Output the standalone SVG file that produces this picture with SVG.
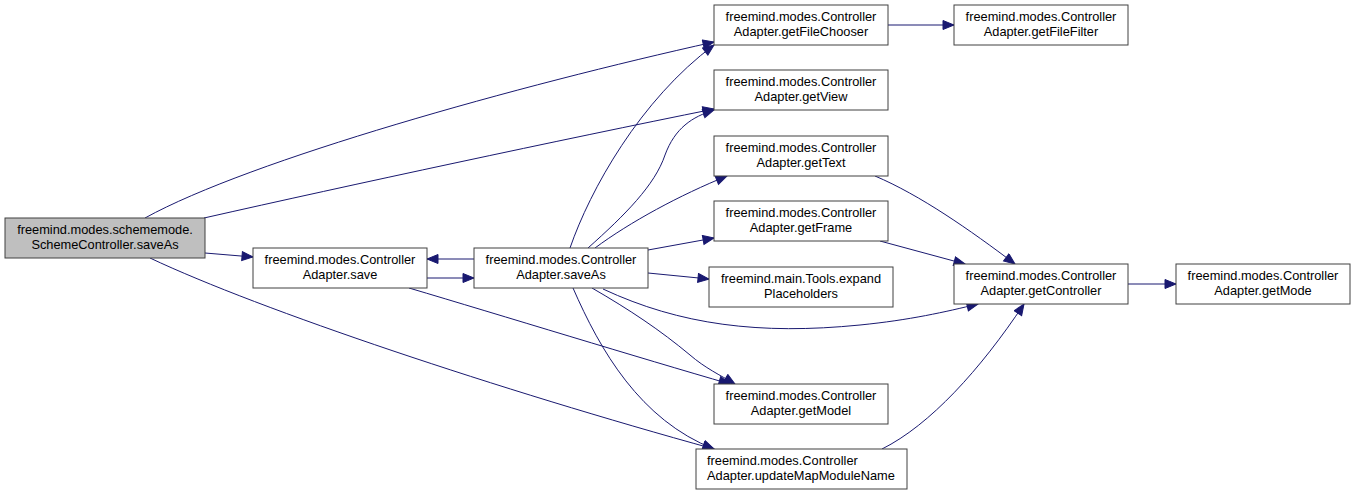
<svg xmlns="http://www.w3.org/2000/svg" width="1355" height="495" viewBox="0 0 1355 495">
<style>
.n rect{fill:#ffffff;stroke:#404040;stroke-width:1}
.n.root rect{fill:#bfbfbf}
.n text{font-family:"Liberation Sans",Arial,sans-serif;font-size:12.8px;fill:#000;text-anchor:middle}
.n text.l{text-anchor:start}
.e path{fill:none;stroke:#191970;stroke-width:1;marker-end:url(#ah)}
</style>
<defs>
<marker id="ah" markerUnits="userSpaceOnUse" markerWidth="14" markerHeight="12" refX="12" refY="5" orient="auto" viewBox="0 0 14 12">
<path d="M1,0.5 L12,5 L1,9.5 z" fill="#191970" stroke="#191970" stroke-width="1"/>
</marker>
</defs>
<rect width="1355" height="495" fill="#ffffff"/>
<g id="edges" class="e">
<path d="M145,218 C 250,160 520,85 714,42"/>
<path d="M204,218 C 350,185 560,140 714,109"/>
<path d="M205,253 L253,257"/>
<path d="M150,258 C 260,310 500,390 714,449"/>
<path d="M427,278 L474,278"/>
<path d="M474,259 L427,259"/>
<path d="M409,288 C 500,315 640,358 730,384"/>
<path d="M570,248 C 590,190 640,100 714,45"/>
<path d="M588,248 C 625,215 655,185 665,155 C 675,128 692,117 714,110"/>
<path d="M595,248 C 630,222 680,195 727,176"/>
<path d="M648,250 L714,238"/>
<path d="M648,273 L709,279"/>
<path d="M603,289 C 680,325 760,335 860,325 C 910,320 945,312 978,304"/>
<path d="M592,288 C 630,310 660,330 690,355 C 705,368 720,375 735,384"/>
<path d="M573,288 C 600,350 640,420 714,449"/>
<path d="M888,25 L954,25"/>
<path d="M875,176 C 920,195 970,230 1015,264"/>
<path d="M880,241 L965,264"/>
<path d="M882,449 C 930,425 980,370 1024,304"/>
<path d="M1128,284 L1176,284"/>
</g>
<g id="n_root" class="n root"><rect x="5" y="218" width="200" height="40"/><text x="105" y="234">freemind.modes.schememode.</text><text x="105" y="249">SchemeController.saveAs</text></g>
<g id="n_save" class="n"><rect x="253" y="248" width="174" height="40"/><text x="340" y="264">freemind.modes.Controller</text><text x="340" y="279">Adapter.save</text></g>
<g id="n_saveAs" class="n"><rect x="474" y="248" width="174" height="40"/><text x="561" y="264">freemind.modes.Controller</text><text x="561" y="279">Adapter.saveAs</text></g>
<g id="n_getFileChooser" class="n"><rect x="714" y="5" width="174" height="40"/><text x="801" y="21">freemind.modes.Controller</text><text x="801" y="36">Adapter.getFileChooser</text></g>
<g id="n_getView" class="n"><rect x="714" y="70" width="174" height="40"/><text x="801" y="86">freemind.modes.Controller</text><text x="801" y="101">Adapter.getView</text></g>
<g id="n_getText" class="n"><rect x="714" y="136" width="174" height="40"/><text x="801" y="152">freemind.modes.Controller</text><text x="801" y="167">Adapter.getText</text></g>
<g id="n_getFrame" class="n"><rect x="714" y="201" width="174" height="40"/><text x="801" y="217">freemind.modes.Controller</text><text x="801" y="232">Adapter.getFrame</text></g>
<g id="n_expand" class="n"><rect x="709" y="267" width="184" height="40"/><text x="801" y="283">freemind.main.Tools.expand</text><text x="801" y="298">Placeholders</text></g>
<g id="n_getModel" class="n"><rect x="714" y="384" width="174" height="40"/><text x="801" y="400">freemind.modes.Controller</text><text x="801" y="415">Adapter.getModel</text></g>
<g id="n_updateMap" class="n"><rect x="696" y="449" width="211" height="40"/><text class="l" x="707" y="465">freemind.modes.Controller</text><text class="l" x="707" y="480">Adapter.updateMapModuleName</text></g>
<g id="n_getFileFilter" class="n"><rect x="954" y="5" width="174" height="40"/><text x="1041" y="21">freemind.modes.Controller</text><text x="1041" y="36">Adapter.getFileFilter</text></g>
<g id="n_getController" class="n"><rect x="954" y="264" width="174" height="40"/><text x="1041" y="280">freemind.modes.Controller</text><text x="1041" y="295">Adapter.getController</text></g>
<g id="n_getMode" class="n"><rect x="1176" y="264" width="174" height="40"/><text x="1263" y="280">freemind.modes.Controller</text><text x="1263" y="295">Adapter.getMode</text></g>
</svg>
